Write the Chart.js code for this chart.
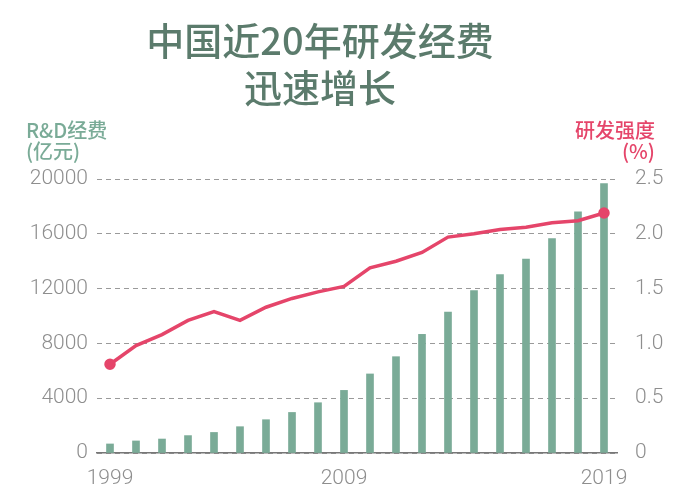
<!DOCTYPE html>
<html>
<head>
<meta charset="utf-8">
<script src="https://cdn.jsdelivr.net/npm/chart.js@4.4.1/dist/chart.umd.min.js"></script>
<style>
  body { margin: 0; background: #fff; }
  #wrap { position: relative; width: 676px; height: 497px; overflow: hidden; }
  #myChart { position: absolute; left: 0; top: 0; }
  .txt { position: absolute; font-family: "Noto Sans CJK SC", "Noto Sans", sans-serif; }
  #title { left: 0; width: 640px; top: 15px; text-align: center; font-size: 38px; line-height: 47px; font-weight: 500; color: #5b7b6c; }
  #leftTitle { left: 26px; top: 119px; font-size: 20px; line-height: 21px; font-weight: 500; color: #7aab97; }
  #rightTitle { right: 21px; top: 119px; font-size: 20px; line-height: 21px; font-weight: 500; color: #e5456a; text-align: right; }
</style>
</head>
<body>
<div id="wrap">
  <canvas id="myChart" width="676" height="497"></canvas>
  <div class="txt" id="title">中国近20年研发经费<br>迅速增长</div>
  <div class="txt" id="leftTitle">R&amp;D经费<br>(亿元)</div>
  <div class="txt" id="rightTitle">研发强度<br>(%)</div>
</div>
<script>
// years shown by the bars
const years = ['1999', '2000', '2001', '2002', '2003', '2004', '2005', '2006', '2007', '2008',
               '2009', '2010', '2011', '2012', '2013', '2014', '2015', '2016', '2017', '2018'];

// labels printed under the axis (as in the picture)
const xTickLabels = ['1999', '', '', '', '', '', '', '', '', '2009',
                     '', '', '', '', '', '', '', '', '', '2019'];

// R&D spending, 亿元
const spending = [660, 880, 1020, 1270, 1500, 1920, 2430, 2960, 3670, 4570,
                  5770, 7030, 8660, 10290, 11850, 13020, 14160, 15660, 17610, 19660];

// R&D intensity, %
const intensity = [0.81, 0.98, 1.08, 1.21, 1.29, 1.21, 1.33, 1.41, 1.47, 1.52,
                   1.69, 1.75, 1.83, 1.97, 2.0, 2.04, 2.06, 2.1, 2.12, 2.19];

const leftTicks = [0, 4000, 8000, 12000, 16000, 20000];
const rightTickValues = [0, 0.5, 1, 1.5, 2, 2.5];
const rightTicks = ['0', '0.5', '1.0', '1.5', '2.0', '2.5'];

const tickFont = { family: 'Roboto, "Liberation Sans", sans-serif', size: 21, weight: 300 };
const tickColor = '#8e8e8e';

// only the first and last point get a dot
const pointSizes = intensity.map((v, i) => (i === 0 || i === intensity.length - 1) ? 4 : 0);

new Chart(document.getElementById('myChart'), {
    data: {
        labels: years,
        datasets: [
            {
                type: 'line',
                data: intensity,
                yAxisID: 'y2',
                borderColor: '#e5456a',
                backgroundColor: '#e5456a',
                borderWidth: 3.5,
                pointRadius: pointSizes,
                pointHoverRadius: pointSizes,
                tension: 0,
                order: 0
            },
            {
                type: 'bar',
                data: spending,
                yAxisID: 'y',
                backgroundColor: '#7aab97',
                barThickness: 7,
                order: 1
            }
        ]
    },
    options: {
        responsive: false,
        animation: false,
        layout: { padding: { top: 179, bottom: 0, left: 0, right: 0 } },
        plugins: { legend: { display: false }, tooltip: { enabled: false } },
        scales: {
            x: {
                grid: { display: false },
                border: { display: true, color: '#777', width: 1.5 },
                ticks: {
                    autoSkip: false,
                    maxRotation: 0,
                    padding: 5,
                    color: tickColor,
                    font: tickFont,
                    callback: (value, index) => xTickLabels[index]
                },
                afterFit: (scale) => { scale.height = 44; }
            },
            y: {
                position: 'left',
                min: 0,
                max: 20000,
                afterBuildTicks: (scale) => { scale.ticks = leftTicks.map(v => ({ value: v })); },
                grid: { color: '#9a9a9a', lineWidth: 1, drawTicks: false },
                border: { display: false, dash: [5, 4] },
                ticks: {
                    padding: 9,
                    color: tickColor,
                    font: tickFont,
                    callback: (value) => String(value)
                },
                afterFit: (scale) => { scale.width = 97; }
            },
            y2: {
                position: 'right',
                min: 0,
                max: 2.5,
                afterBuildTicks: (scale) => { scale.ticks = rightTickValues.map(v => ({ value: v })); },
                grid: { display: false },
                border: { display: false },
                ticks: {
                    padding: 10,
                    color: tickColor,
                    font: tickFont,
                    callback: (value, index) => rightTicks[index]
                },
                afterFit: (scale) => { scale.width = 59; }
            }
        }
    }
});
</script>
</body>
</html>
